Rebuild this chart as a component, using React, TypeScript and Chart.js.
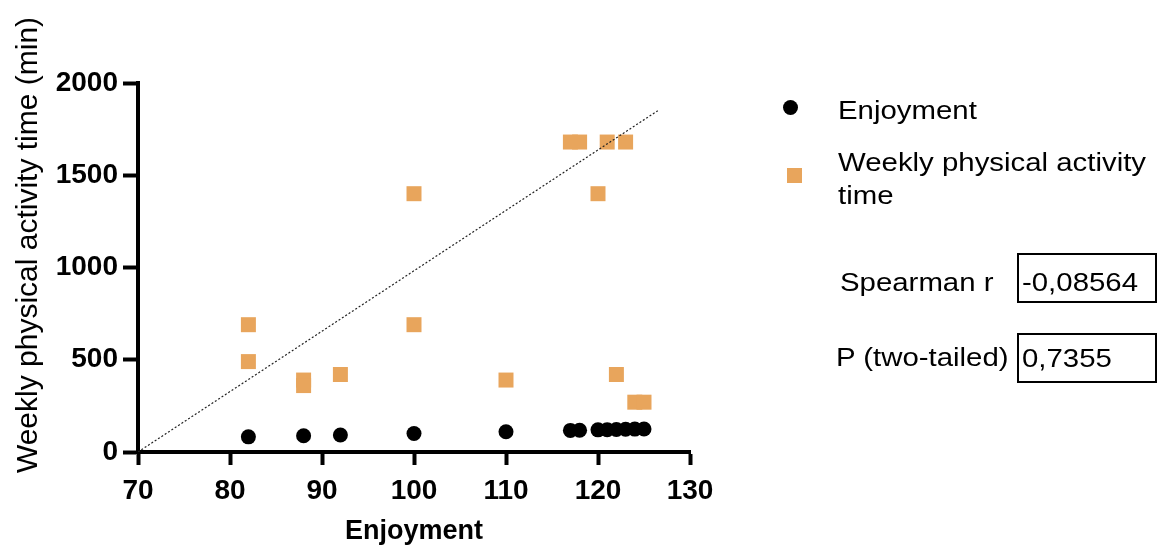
import React, { useEffect, useRef } from "react";
import { Chart, registerables } from "chart.js";

Chart.register(...registerables);

// Enjoyment scores (x) for each participant
const enjoymentX = [82, 82, 88, 88, 92, 100, 100, 110, 117, 118, 120, 121, 122, 123, 124, 125];
// Weekly physical activity time (min) per participant
const activityMinutes = [690, 490, 390, 360, 420, 1400, 690, 390, 1680, 1680, 1400, 1680, 420, 1680, 270, 270];
// Enjoyment plotted against itself
const enjoymentCircleX = [82, 88, 92, 100, 110, 117, 118, 120, 121, 122, 123, 124, 125];
// Reference line endpoints
const lineX = [70, 126.5];
const lineY = [0, 1850];

const xTicks = [70, 80, 90, 100, 110, 120, 130];
const yTicks = [0, 500, 1000, 1500, 2000];

const Y_TITLE = "Weekly physical activity time (min)";
const ORANGE = "#E8A55C";
const FONT = "'Liberation Sans', Arial, sans-serif";

// Draws the rotated y-axis title at a fixed spot left of the axis
const yTitlePlugin = {
  id: "yTitle",
  afterDraw(chart: any) {
    const ctx = chart.ctx;
    ctx.save();
    ctx.translate(29, 245);
    ctx.rotate(-Math.PI / 2);
    ctx.font = `30px ${FONT}`;
    ctx.fillStyle = "#000";
    ctx.textAlign = "center";
    ctx.textBaseline = "middle";
    ctx.fillText(Y_TITLE, 0, 0);
    ctx.restore();
  },
};

export default function App() {
  const canvasRef = useRef<HTMLCanvasElement | null>(null);

  useEffect(() => {
    const canvas = canvasRef.current;
    if (!canvas) return;
    const chart = new Chart(canvas, {
      type: "scatter",
      data: {
        datasets: [
          {
            type: "line",
            label: "fit",
            data: lineX.map((x, i) => ({ x, y: lineY[i] })),
            borderColor: "#222",
            borderWidth: 1.2,
            borderDash: [2, 2],
            pointRadius: 0,
            fill: false,
          },
          {
            label: "Weekly physical activity time",
            data: enjoymentX.map((x, i) => ({ x, y: activityMinutes[i] })),
            pointStyle: "rect",
            pointRadius: 10.6,
            backgroundColor: ORANGE,
            borderWidth: 0,
          },
          {
            label: "Enjoyment",
            data: enjoymentCircleX.map((x) => ({ x, y: x })),
            pointStyle: "circle",
            pointRadius: 7.5,
            backgroundColor: "#000",
            borderWidth: 0,
          },
        ],
      },
      options: {
        animation: false,
        responsive: false,
        layout: { padding: { left: 0, top: 83, right: 469, bottom: 0 } },
        plugins: { legend: { display: false }, tooltip: { enabled: false } },
        scales: {
          x: {
            type: "linear",
            min: 70,
            max: 130,
            afterBuildTicks: (s: any) => {
              s.ticks = xTicks.map((v) => ({ value: v }));
            },
            afterFit: (s: any) => {
              s.height = 97;
            },
            grid: {
              drawOnChartArea: false,
              drawTicks: true,
              tickLength: 13,
              tickWidth: 4,
              tickColor: "#000",
            },
            border: { color: "#000", width: 4 },
            ticks: {
              color: "#000",
              font: { family: FONT, size: 28, weight: "bold" },
              padding: 9,
              maxRotation: 0,
              callback: (v: any) => String(v),
            },
            title: {
              display: true,
              text: "Enjoyment",
              color: "#000",
              font: { family: FONT, size: 27, weight: "bold" },
              padding: { top: 0, bottom: 1 },
            },
          },
          y: {
            type: "linear",
            min: 0,
            max: 2000,
            afterBuildTicks: (s: any) => {
              s.ticks = yTicks.map((v) => ({ value: v }));
            },
            afterFit: (s: any) => {
              s.width = 138;
            },
            grid: {
              drawOnChartArea: false,
              drawTicks: true,
              tickLength: 15,
              tickWidth: 4,
              tickColor: "#000",
            },
            border: { color: "#000", width: 4 },
            ticks: {
              color: "#000",
              font: { family: FONT, size: 28, weight: "bold" },
              padding: 5,
              callback: (v: any) => String(v),
            },
          },
        },
      },
      plugins: [yTitlePlugin],
    });
    return () => chart.destroy();
  }, []);

  const txt: React.CSSProperties = {
    position: "absolute",
    fontFamily: FONT,
    fontSize: 26,
    color: "#000",
    whiteSpace: "nowrap",
    lineHeight: "32px",
    transform: "scaleX(1.13)",
    transformOrigin: "left center",
  };
  const box: React.CSSProperties = {
    position: "absolute",
    border: "2px solid #000",
    boxSizing: "border-box",
    background: "#fff",
  };

  return (
    <div style={{ position: "fixed", left: 0, top: 0, width: 1159, height: 549, background: "#fff" }}>
      <canvas ref={canvasRef} width={1159} height={549} style={{ position: "absolute", left: 0, top: 0 }} />
      <div
        style={{
          position: "absolute",
          left: 783,
          top: 100,
          width: 15,
          height: 15,
          borderRadius: "50%",
          background: "#000",
        }}
      />
      <div style={{ ...txt, left: 838, top: 94 }}>Enjoyment</div>
      <div
        style={{
          position: "absolute",
          left: 787,
          top: 168,
          width: 15,
          height: 15,
          background: ORANGE,
        }}
      />
      <div style={{ ...txt, left: 838, top: 146 }}>Weekly physical activity</div>
      <div style={{ ...txt, left: 838, top: 179 }}>time</div>
      <div style={{ ...txt, left: 840, top: 266 }}>Spearman r</div>
      <div style={{ ...box, left: 1017, top: 253, width: 140, height: 50 }} />
      <div style={{ ...txt, left: 1022, top: 266 }}>-0,08564</div>
      <div style={{ ...txt, left: 836, top: 341 }}>P (two-tailed)</div>
      <div style={{ ...box, left: 1017, top: 333, width: 140, height: 50 }} />
      <div style={{ ...txt, left: 1022, top: 342 }}>0,7355</div>
    </div>
  );
}
